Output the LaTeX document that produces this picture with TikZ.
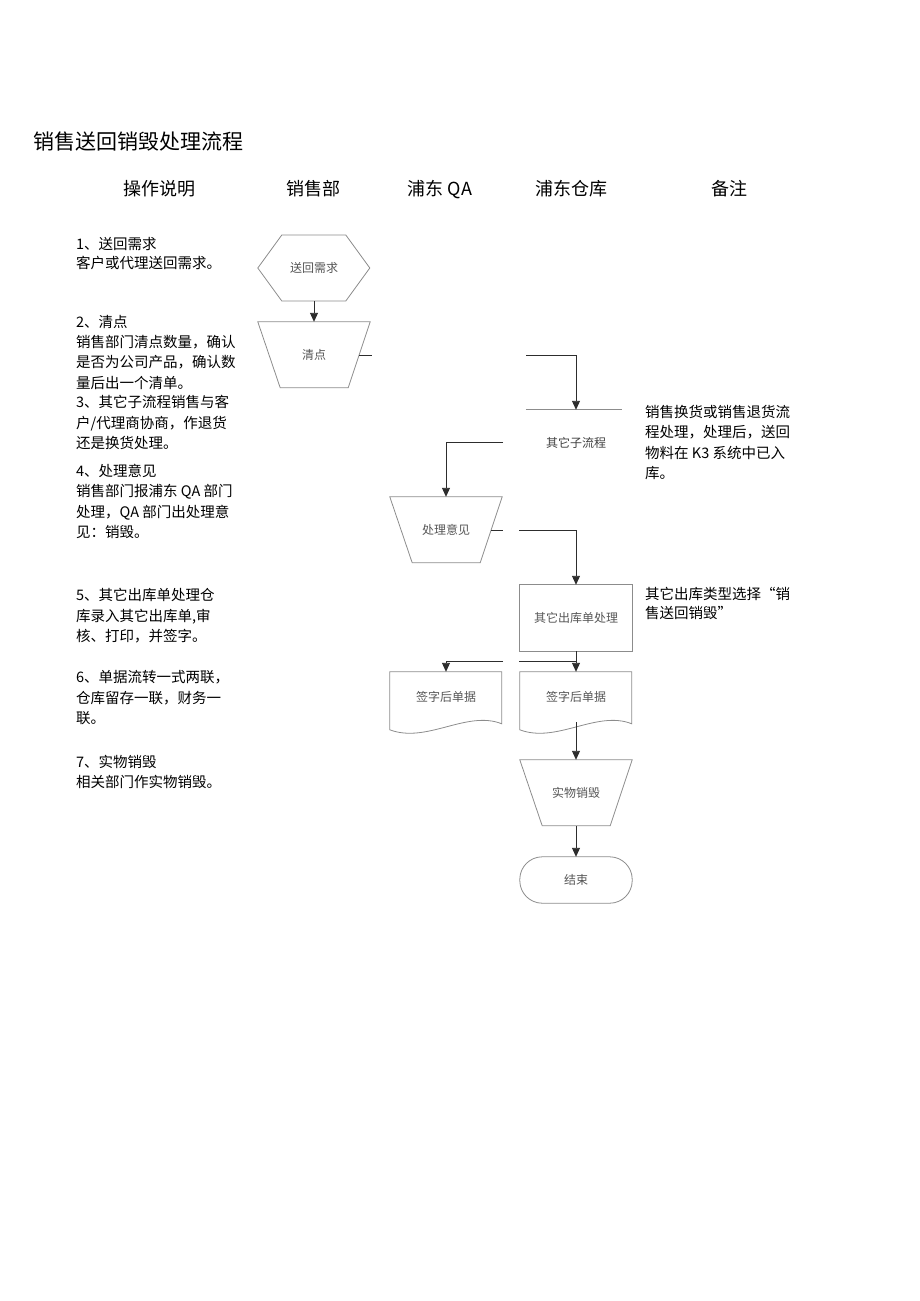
\documentclass[tikz,border=0pt]{standalone}
\usepackage{fontspec}
\setmainfont{Noto Sans CJK SC}
\usetikzlibrary{arrows.meta}
\usetikzlibrary{positioning}
\definecolor{shapegray}{RGB}{140,140,140}
\definecolor{linegray}{RGB}{45,45,45}
\definecolor{labelgray}{RGB}{85,85,85}
\tikzset{
  stepnode/.style={draw=none, inner sep=0, minimum width=112pt, minimum height=66pt,
    font=\fontsize{12}{14}\selectfont, text=labelgray},
  outline/.style={draw=shapegray, line width=0.8pt},
  flow/.style={draw=linegray, line width=0.9pt},
  arrow/.style={flow, -{Triangle[length=9pt,width=8pt]}},
  lane/.style={anchor=base, inner sep=0, font=\fontsize{18}{20}\selectfont},
  % multi-line notes sit on the baseline of their last line
  note/.style={anchor=base west, align=left, inner sep=0, font=\fontsize{14.5}{20.3}\selectfont}
}

\begin{document}
\begin{tikzpicture}[x=1pt,y=-1pt]
    \useasboundingbox (0,0) rectangle (920,1301);

    % title and lane headers
    \node [anchor=base west, inner sep=0, font=\fontsize{21}{24}\selectfont] (title) at (33,149)
          {销售送回销毁处理流程};
    \node [lane] (h1) at (159,195) {操作说明};
    \node [lane] (h2) at (313,195) {销售部};
    \node [lane] (h3) at (440,195) {浦东 QA};
    \node [lane] (h4) at (571,195) {浦东仓库};
    \node [lane] (h5) at (729,195) {备注};

    % operating notes
    \node [note, font=\fontsize{14.5}{19}\selectfont] (n1) at (76,268.5) {1、送回需求\\客户或代理送回需求。};
    \node [note] (n2) at (76,388) {2、清点\\销售部门清点数量，确认\\是否为公司产品，确认数\\量后出一个清单。};
    \node [note] (n3) at (76,448.5) {3、其它子流程销售与客\\户/代理商协商，作退货\\还是换货处理。};
    \node [note] (n4) at (76,537.5) {4、处理意见\\销售部门报浦东 QA 部门\\处理，QA 部门出处理意\\见：销毁。};
    \node [note] (n5) at (76,641.5) {5、其它出库单处理仓\\库录入其它出库单,审\\核、打印，并签字。};
    \node [note] (n6) at (76,723.5) {6、单据流转一式两联，\\仓库留存一联，财务一\\联。};
    \node [note] (n7) at (76,787.5) {7、实物销毁\\相关部门作实物销毁。};

    % remarks
    \node [note] (r1) at (645,478.5) {销售换货或销售退货流\\程处理，处理后，送回\\物料在 K3 系统中已入\\库。};
    \node [note, font=\fontsize{14.5}{19}\selectfont] (r2) at (645,618.5) {其它出库类型选择“销\\售送回销毁”};

    % flow steps
    \node [stepnode] (req) at (314,268) {送回需求};
    \node [stepnode] (cnt) at (314,355) {清点};
    \node [stepnode, text=black!75] (sub) at (576,443) {其它子流程};
    \node [stepnode] (opn) at (446,530) {处理意见};
    \node [stepnode] (iss) at (576,618) {其它出库单处理};
    \node [stepnode, minimum height=50pt] (docl) at (446,697) {签字后单据};
    \node [stepnode, minimum height=50pt] (docr) at (576,697) {签字后单据};
    \node [stepnode] (dst) at (576,793) {实物销毁};
    \node [stepnode, minimum height=46pt] (fin) at (576,880) {结束};

    % outlines
    \draw [outline] (req.west) -- ++(24,-33) -- ++(64,0) -- ++(24,33)
          -- ++(-24,33) -- ++(-64,0) -- cycle;
    \draw [outline] (cnt.north west) -- (cnt.north east) -- ++(-22,66) -- ++(-68,0) -- cycle;
    \draw [outline] ([xshift=6pt]sub.north west) -- ([xshift=-10pt]sub.north east);
    \draw [outline] (opn.north west) -- (opn.north east) -- ++(-22,66) -- ++(-68,0) -- cycle;
    \draw [outline] (iss.north west) rectangle (iss.south east);
    \draw [outline, shift={(docl.north west)}] (0,0) -- (112,0) -- (112,52)
          .. controls (77,38) and (37,72) .. (0,58) -- cycle;
    \draw [outline, shift={(docr.north west)}] (0,0) -- (112,0) -- (112,52)
          .. controls (77,38) and (37,72) .. (0,58) -- cycle;
    \draw [outline] (dst.north west) -- (dst.north east) -- ++(-22,66) -- ++(-68,0) -- cycle;
    \draw [outline, rounded corners=22.5pt] (fin.north west) rectangle (fin.south east);

    % connectors
    \coordinate (c1) at (372,355);
    \coordinate (c2) at (526,355);
    \coordinate (c3) at (503,442);
    \coordinate (c4) at (503,530);
    \coordinate (c5) at (519,530);
    \coordinate (c6) at (519,661);
    \coordinate (c7) at (503,661);

    \draw [arrow] (req.south) -- (cnt.north);
    \draw [flow] ([xshift=-11pt]cnt.east) -- (c1);
    \draw [arrow] (c2) -| (sub.north);
    \draw [arrow] (c3) -| (opn.north);
    \draw [flow] ([xshift=-11pt]opn.east) -- (c4);
    \draw [arrow] (c5) -| (iss.north);
    \draw [arrow] (iss.south) -- (docr.north);
    \draw [flow] (iss.south |- c6) -- (c6);
    \draw [arrow] (c7) -| (docl.north);
    \draw [arrow] (docr.south) -- (dst.north);
    \draw [arrow] (dst.south) -- (fin.north);
\end{tikzpicture}
\end{document}
